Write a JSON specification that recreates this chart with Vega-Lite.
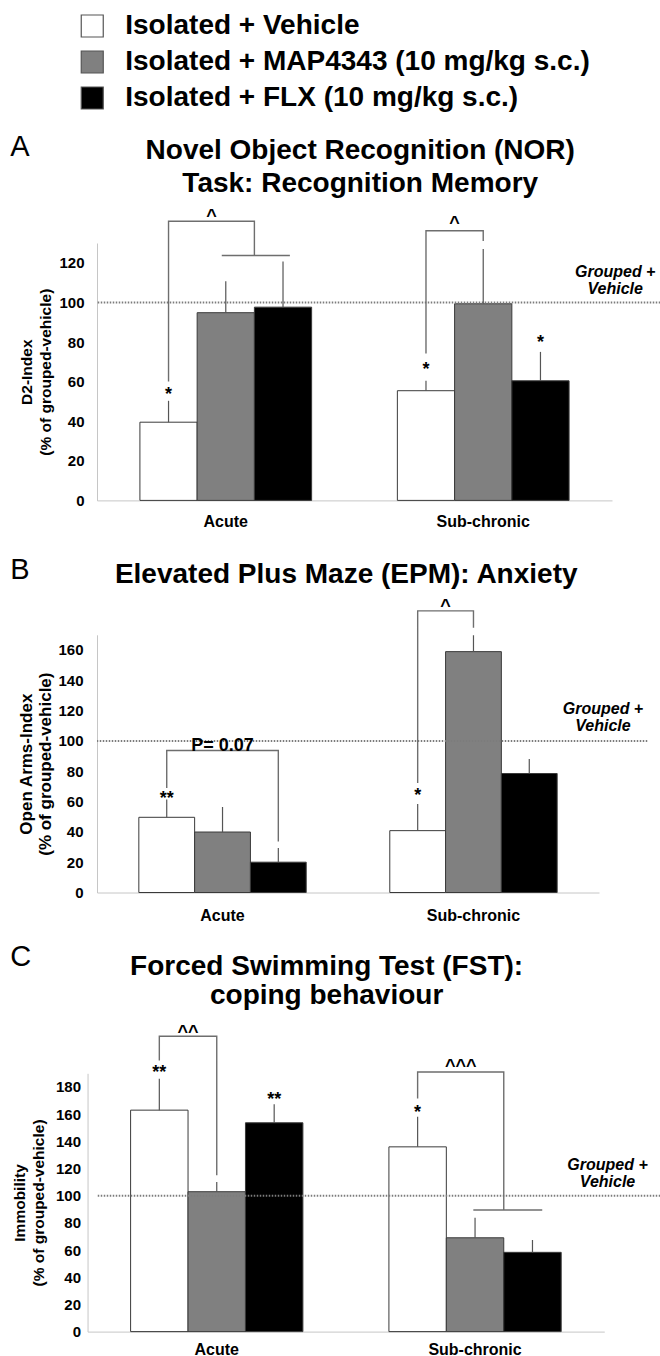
{
  "$schema": "https://vega.github.io/schema/vega-lite/v6.json",
  "padding": {"left": 10, "top": 12, "right": 0, "bottom": 0},
  "datasets": {
    "bars": [
      {"panel": "A", "period": "Acute", "group": "Isolated + Vehicle", "value": 39.5, "err": 50.3},
      {"panel": "A", "period": "Acute", "group": "Isolated + MAP4343 (10 mg/kg s.c.)", "value": 94.8, "err": 110.7},
      {"panel": "A", "period": "Acute", "group": "Isolated + FLX (10 mg/kg s.c.)", "value": 97.6, "err": 120.6},
      {"panel": "A", "period": "Sub-chronic", "group": "Isolated + Vehicle", "value": 55.4, "err": 60.4},
      {"panel": "A", "period": "Sub-chronic", "group": "Isolated + MAP4343 (10 mg/kg s.c.)", "value": 99.3, "err": 127},
      {"panel": "A", "period": "Sub-chronic", "group": "Isolated + FLX (10 mg/kg s.c.)", "value": 60.4, "err": 75},
      {"panel": "B", "period": "Acute", "group": "Isolated + Vehicle", "value": 49.6, "err": 61.3},
      {"panel": "B", "period": "Acute", "group": "Isolated + MAP4343 (10 mg/kg s.c.)", "value": 39.9, "err": 56.4},
      {"panel": "B", "period": "Acute", "group": "Isolated + FLX (10 mg/kg s.c.)", "value": 20, "err": 29.3},
      {"panel": "B", "period": "Sub-chronic", "group": "Isolated + Vehicle", "value": 40.8, "err": 58.4},
      {"panel": "B", "period": "Sub-chronic", "group": "Isolated + MAP4343 (10 mg/kg s.c.)", "value": 158.9, "err": 169.7},
      {"panel": "B", "period": "Sub-chronic", "group": "Isolated + FLX (10 mg/kg s.c.)", "value": 78.5, "err": 88.1},
      {"panel": "C", "period": "Acute", "group": "Isolated + Vehicle", "value": 162.9, "err": 186},
      {"panel": "C", "period": "Acute", "group": "Isolated + MAP4343 (10 mg/kg s.c.)", "value": 102.9, "err": 110},
      {"panel": "C", "period": "Acute", "group": "Isolated + FLX (10 mg/kg s.c.)", "value": 153.6, "err": 167.3},
      {"panel": "C", "period": "Sub-chronic", "group": "Isolated + Vehicle", "value": 135.9, "err": 158},
      {"panel": "C", "period": "Sub-chronic", "group": "Isolated + MAP4343 (10 mg/kg s.c.)", "value": 69, "err": 83.8},
      {"panel": "C", "period": "Sub-chronic", "group": "Isolated + FLX (10 mg/kg s.c.)", "value": 58.3, "err": 67.4}
    ],
    "brackets": [
      {"panel": "A", "id": "A1", "period": "Acute", "i": 1, "slot": 1, "value": 60},
      {"panel": "A", "id": "A1", "period": "Acute", "i": 2, "slot": 1, "value": 141},
      {"panel": "A", "id": "A1", "period": "Acute", "i": 3, "slot": 2.5, "value": 141},
      {"panel": "A", "id": "A1", "period": "Acute", "i": 4, "slot": 2.5, "value": 123.7},
      {"panel": "A", "id": "A1b", "period": "Acute", "i": 1, "slot": 1.93, "value": 123.7},
      {"panel": "A", "id": "A1b", "period": "Acute", "i": 2, "slot": 3.12, "value": 123.7},
      {"panel": "A", "id": "A2", "period": "Sub-chronic", "i": 1, "slot": 1, "value": 74.2},
      {"panel": "A", "id": "A2", "period": "Sub-chronic", "i": 2, "slot": 1, "value": 136.2},
      {"panel": "A", "id": "A2", "period": "Sub-chronic", "i": 3, "slot": 2, "value": 136.2},
      {"panel": "A", "id": "A2", "period": "Sub-chronic", "i": 4, "slot": 2, "value": 131},
      {"panel": "B", "id": "B1", "period": "Acute", "i": 1, "slot": 1, "value": 69},
      {"panel": "B", "id": "B1", "period": "Acute", "i": 2, "slot": 1, "value": 93.7},
      {"panel": "B", "id": "B1", "period": "Acute", "i": 3, "slot": 3, "value": 93.7},
      {"panel": "B", "id": "B1", "period": "Acute", "i": 4, "slot": 3, "value": 33.7},
      {"panel": "B", "id": "B2", "period": "Sub-chronic", "i": 1, "slot": 1, "value": 72.3},
      {"panel": "B", "id": "B2", "period": "Sub-chronic", "i": 2, "slot": 1, "value": 185.8},
      {"panel": "B", "id": "B2", "period": "Sub-chronic", "i": 3, "slot": 2, "value": 185.8},
      {"panel": "B", "id": "B2", "period": "Sub-chronic", "i": 4, "slot": 2, "value": 174.7},
      {"panel": "C", "id": "C1", "period": "Acute", "i": 1, "slot": 1, "value": 199.5},
      {"panel": "C", "id": "C1", "period": "Acute", "i": 2, "slot": 1, "value": 217.2},
      {"panel": "C", "id": "C1", "period": "Acute", "i": 3, "slot": 2, "value": 217.2},
      {"panel": "C", "id": "C1", "period": "Acute", "i": 4, "slot": 2, "value": 115},
      {"panel": "C", "id": "C2", "period": "Sub-chronic", "i": 1, "slot": 1, "value": 171.5},
      {"panel": "C", "id": "C2", "period": "Sub-chronic", "i": 2, "slot": 1, "value": 191},
      {"panel": "C", "id": "C2", "period": "Sub-chronic", "i": 3, "slot": 2.5, "value": 191},
      {"panel": "C", "id": "C2", "period": "Sub-chronic", "i": 4, "slot": 2.5, "value": 89.4},
      {"panel": "C", "id": "C2b", "period": "Sub-chronic", "i": 1, "slot": 1.97, "value": 89.4},
      {"panel": "C", "id": "C2b", "period": "Sub-chronic", "i": 2, "slot": 3.17, "value": 89.4}
    ],
    "notes": [
      {"panel": "A", "period": "Acute", "slot": 1, "value": 55, "label": "*"},
      {"panel": "A", "period": "Acute", "slot": 1.75, "value": 144.6, "label": "^"},
      {"panel": "A", "period": "Sub-chronic", "slot": 1.5, "value": 141.2, "label": "^"},
      {"panel": "A", "period": "Sub-chronic", "slot": 1, "value": 67.4, "label": "*"},
      {"panel": "A", "period": "Sub-chronic", "slot": 3, "value": 80.9, "label": "*"},
      {"panel": "B", "period": "Acute", "slot": 1, "value": 63.5, "label": "**"},
      {"panel": "B", "period": "Acute", "slot": 2, "value": 98.7, "label": "P= 0.07"},
      {"panel": "B", "period": "Sub-chronic", "slot": 1.5, "value": 190.6, "label": "^"},
      {"panel": "B", "period": "Sub-chronic", "slot": 1, "value": 65.6, "label": "*"},
      {"panel": "C", "period": "Acute", "slot": 1, "value": 192.2, "label": "**"},
      {"panel": "C", "period": "Acute", "slot": 1.5, "value": 221.6, "label": "^^"},
      {"panel": "C", "period": "Acute", "slot": 3, "value": 172.7, "label": "**"},
      {"panel": "C", "period": "Sub-chronic", "slot": 1, "value": 162.9, "label": "*"},
      {"panel": "C", "period": "Sub-chronic", "slot": 1.75, "value": 196.7, "label": "^^^"}
    ]
  },
  "columns": 1,
  "align": "none",
  "spacing": 24.8,
  "resolve": {"scale": {"fill": "shared", "size": "shared"}, "legend": {"fill": "shared"}},
  "concat": [
    {
      "width": 563.25, "height": 257.4,
      "title": {"text": ["Novel Object Recognition (NOR)", "Task: Recognition Memory"], "offset": -65, "dx": -18.4},
      "resolve": {"scale": {"xOffset": "independent"}},
      "encoding": {"y": {"field": "value", "type": "quantitative", "scale": {"domain": [0, 130], "nice": false}, "axis": {"values": [0, 20, 40, 60, 80, 100, 120], "labelPadding": 13, "titlePadding": 5}, "title": ["D2-Index", "(% of grouped-vehicle)"]}},
      "layer": [
        {"data": {"name": "bars"}, "transform": [{"filter": "datum.panel === 'A'"}],
         "mark": {"type": "bar", "stroke": "#3a3a3a", "strokeWidth": 1},
         "encoding": {
           "x": {"field": "period", "type": "nominal", "title": null, "scale": {"domain": ["Acute", "Sub-chronic"], "range": [0, 515], "paddingInner": 0.333, "paddingOuter": 0.1667}, "axis": {"labelPadding": 13}},
           "xOffset": {"field": "group", "type": "nominal", "scale": {"domain": ["Isolated + Vehicle", "Isolated + MAP4343 (10 mg/kg s.c.)", "Isolated + FLX (10 mg/kg s.c.)"], "paddingInner": 0, "paddingOuter": 0}},
           "fill": {"field": "group", "type": "nominal", "scale": {"domain": ["Isolated + Vehicle", "Isolated + MAP4343 (10 mg/kg s.c.)", "Isolated + FLX (10 mg/kg s.c.)"], "range": ["#ffffff", "#808080", "#000000"]}}
         }},
        {"data": {"values": [{"value": 100}]}, "mark": {"type": "rule", "color": "#7c7c7c", "strokeWidth": 2, "strokeDash": [1.5, 1.5]}, "encoding": {}},
        {"data": {"name": "bars"}, "transform": [{"filter": "datum.panel === 'A'"}],
         "mark": {"type": "rule", "color": "#555555", "strokeWidth": 1.2},
         "encoding": {
           "x": {"field": "period", "type": "nominal", "title": null},
           "xOffset": {"field": "group", "type": "nominal", "scale": {"domain": ["Isolated + Vehicle", "Isolated + MAP4343 (10 mg/kg s.c.)", "Isolated + FLX (10 mg/kg s.c.)"], "paddingInner": 0, "paddingOuter": 0}},
           "y2": {"field": "err"}
         }},
        {"data": {"name": "brackets"}, "transform": [{"filter": "datum.panel === 'A'"}],
         "mark": {"type": "line", "color": "#6e6e6e", "strokeWidth": 1.4},
         "encoding": {
           "x": {"field": "period", "type": "nominal", "title": null},
           "xOffset": {"field": "slot", "type": "quantitative", "scale": {"domain": [0.5, 3.5], "nice": false, "zero": false}},
           "detail": {"field": "id"},
           "order": {"field": "i"}
         }},
        {"data": {"name": "notes"}, "transform": [{"filter": "datum.panel === 'A'"}],
         "mark": {"type": "text", "fontWeight": "bold", "baseline": "middle", "dy": 3, "color": "#000"},
         "encoding": {
           "x": {"field": "period", "type": "nominal", "title": null},
           "xOffset": {"field": "slot", "type": "quantitative", "scale": {"domain": [0.5, 3.5], "nice": false, "zero": false}},
           "text": {"field": "label"},
           "size": {"field": "label", "type": "ordinal", "scale": {"domain": ["*", "**", "^", "^^", "^^^", "P= 0.07"], "range": [18, 18, 15, 15, 15, 13]}, "legend": null}
         }},
        {"data": {"values": [{"period": "Sub-chronic", "value": 115.3}]}, "mark": {"type": "text", "text": ["Grouped +", "Vehicle"], "fontStyle": "italic", "fontWeight": "bold", "fontSize": 16, "lineHeight": 17, "align": "center", "baseline": "middle", "dx": 132, "color": "#000"},
         "encoding": {"x": {"field": "period", "type": "nominal", "title": null}}},
        {"data": {"values": [{"period": "Acute", "value": 178.4, "letter": "A"}]}, "mark": {"type": "text", "fontSize": 29, "fontWeight": "normal", "align": "left", "baseline": "middle", "dx": -215.5, "color": "#000"},
         "encoding": {"x": {"field": "period", "type": "nominal", "title": null}, "text": {"field": "letter"}}}
      ]
    },
    {
      "columns": 1,
      "align": "none",
      "spacing": 18.5,
      "concat": [
        {
          "width": 550.25, "height": 257.7,
          "title": {"text": "Elevated Plus Maze (EPM): Anxiety", "offset": -33.5, "dx": -25.9},
          "resolve": {"scale": {"xOffset": "independent"}},
          "encoding": {"y": {"field": "value", "type": "quantitative", "scale": {"domain": [0, 170], "nice": false}, "axis": {"values": [0, 20, 40, 60, 80, 100, 120, 140, 160], "labelPadding": 14, "titlePadding": 3, "titleFontSize": 17}, "title": ["Open Arms-Index", "(% of grouped-vehicle)"]}},
          "layer": [
            {"data": {"name": "bars"}, "transform": [{"filter": "datum.panel === 'B'"}],
             "mark": {"type": "bar", "stroke": "#3a3a3a", "strokeWidth": 1},
             "encoding": {
               "x": {"field": "period", "type": "nominal", "title": null, "scale": {"domain": ["Acute", "Sub-chronic"], "range": [0, 502], "paddingInner": 0.333, "paddingOuter": 0.1667}, "axis": {"labelPadding": 15}},
               "xOffset": {"field": "group", "type": "nominal", "scale": {"domain": ["Isolated + Vehicle", "Isolated + MAP4343 (10 mg/kg s.c.)", "Isolated + FLX (10 mg/kg s.c.)"], "paddingInner": 0, "paddingOuter": 0}},
               "fill": {"field": "group", "type": "nominal", "scale": {"domain": ["Isolated + Vehicle", "Isolated + MAP4343 (10 mg/kg s.c.)", "Isolated + FLX (10 mg/kg s.c.)"], "range": ["#ffffff", "#808080", "#000000"]}}
             }},
            {"data": {"values": [{"value": 100}]}, "mark": {"type": "rule", "color": "#7c7c7c", "strokeWidth": 2, "strokeDash": [1.5, 1.5]}, "encoding": {}},
            {"data": {"name": "bars"}, "transform": [{"filter": "datum.panel === 'B'"}],
             "mark": {"type": "rule", "color": "#555555", "strokeWidth": 1.2},
             "encoding": {
               "x": {"field": "period", "type": "nominal", "title": null},
               "xOffset": {"field": "group", "type": "nominal", "scale": {"domain": ["Isolated + Vehicle", "Isolated + MAP4343 (10 mg/kg s.c.)", "Isolated + FLX (10 mg/kg s.c.)"], "paddingInner": 0, "paddingOuter": 0}},
               "y2": {"field": "err"}
             }},
            {"data": {"name": "brackets"}, "transform": [{"filter": "datum.panel === 'B'"}],
             "mark": {"type": "line", "color": "#6e6e6e", "strokeWidth": 1.4},
             "encoding": {
               "x": {"field": "period", "type": "nominal", "title": null},
               "xOffset": {"field": "slot", "type": "quantitative", "scale": {"domain": [0.5, 3.5], "nice": false, "zero": false}},
               "detail": {"field": "id"},
               "order": {"field": "i"}
             }},
            {"data": {"name": "notes"}, "transform": [{"filter": "datum.panel === 'B'"}],
             "mark": {"type": "text", "fontWeight": "bold", "baseline": "middle", "dy": 3, "color": "#000"},
             "encoding": {
               "x": {"field": "period", "type": "nominal", "title": null},
               "xOffset": {"field": "slot", "type": "quantitative", "scale": {"domain": [0.5, 3.5], "nice": false, "zero": false}},
               "text": {"field": "label"},
               "size": {"field": "label", "type": "ordinal", "scale": {"domain": ["*", "**", "^", "^^", "^^^", "P= 0.07"], "range": [18, 18, 15, 15, 15, 13]}, "legend": null}
             }},
            {"data": {"values": [{"period": "Sub-chronic", "value": 120.8}]}, "mark": {"type": "text", "text": ["Grouped +", "Vehicle"], "fontStyle": "italic", "fontWeight": "bold", "fontSize": 16, "lineHeight": 17, "align": "center", "baseline": "middle", "dx": 129.5, "color": "#000"},
             "encoding": {"x": {"field": "period", "type": "nominal", "title": null}}},
            {"data": {"values": [{"period": "Acute", "value": 212.9, "letter": "B"}]}, "mark": {"type": "text", "fontSize": 29, "fontWeight": "normal", "align": "left", "baseline": "middle", "dx": -212.25, "color": "#000"},
             "encoding": {"x": {"field": "period", "type": "nominal", "title": null}, "text": {"field": "letter"}}}
          ]
        },
        {
          "width": 563.25, "height": 258.3,
          "title": {"text": ["Forced Swimming Test (FST):", "coping behaviour"], "offset": -66.5, "dx": -52, "lineHeight": 29},
          "resolve": {"scale": {"xOffset": "independent"}},
          "encoding": {"y": {"field": "value", "type": "quantitative", "scale": {"domain": [0, 190], "nice": false}, "axis": {"values": [0, 20, 40, 60, 80, 100, 120, 140, 160, 180], "labelPadding": 7, "titlePadding": 9, "offset": 9.45}, "title": ["Immobility", "(% of grouped-vehicle)"]}},
          "layer": [
            {"data": {"name": "bars"}, "transform": [{"filter": "datum.panel === 'C'"}],
             "mark": {"type": "bar", "stroke": "#3a3a3a", "strokeWidth": 1},
             "encoding": {
               "x": {"field": "period", "type": "nominal", "title": null, "scale": {"domain": ["Acute", "Sub-chronic"], "range": [-9.45, 507.25], "paddingInner": 0.333, "paddingOuter": 0.1667}, "axis": {"labelPadding": 10}},
               "xOffset": {"field": "group", "type": "nominal", "scale": {"domain": ["Isolated + Vehicle", "Isolated + MAP4343 (10 mg/kg s.c.)", "Isolated + FLX (10 mg/kg s.c.)"], "paddingInner": 0, "paddingOuter": 0}},
               "fill": {"field": "group", "type": "nominal", "scale": {"domain": ["Isolated + Vehicle", "Isolated + MAP4343 (10 mg/kg s.c.)", "Isolated + FLX (10 mg/kg s.c.)"], "range": ["#ffffff", "#808080", "#000000"]}}
             }},
            {"data": {"values": [{"value": 100}]}, "mark": {"type": "rule", "color": "#7c7c7c", "strokeWidth": 2, "strokeDash": [1.5, 1.5]}, "encoding": {}},
            {"data": {"name": "bars"}, "transform": [{"filter": "datum.panel === 'C'"}],
             "mark": {"type": "rule", "color": "#555555", "strokeWidth": 1.2},
             "encoding": {
               "x": {"field": "period", "type": "nominal", "title": null},
               "xOffset": {"field": "group", "type": "nominal", "scale": {"domain": ["Isolated + Vehicle", "Isolated + MAP4343 (10 mg/kg s.c.)", "Isolated + FLX (10 mg/kg s.c.)"], "paddingInner": 0, "paddingOuter": 0}},
               "y2": {"field": "err"}
             }},
            {"data": {"name": "brackets"}, "transform": [{"filter": "datum.panel === 'C'"}],
             "mark": {"type": "line", "color": "#6e6e6e", "strokeWidth": 1.4},
             "encoding": {
               "x": {"field": "period", "type": "nominal", "title": null},
               "xOffset": {"field": "slot", "type": "quantitative", "scale": {"domain": [0.5, 3.5], "nice": false, "zero": false}},
               "detail": {"field": "id"},
               "order": {"field": "i"}
             }},
            {"data": {"name": "notes"}, "transform": [{"filter": "datum.panel === 'C'"}],
             "mark": {"type": "text", "fontWeight": "bold", "baseline": "middle", "dy": 3, "color": "#000"},
             "encoding": {
               "x": {"field": "period", "type": "nominal", "title": null},
               "xOffset": {"field": "slot", "type": "quantitative", "scale": {"domain": [0.5, 3.5], "nice": false, "zero": false}},
               "text": {"field": "label"},
               "size": {"field": "label", "type": "ordinal", "scale": {"domain": ["*", "**", "^", "^^", "^^^", "P= 0.07"], "range": [18, 18, 15, 15, 15, 13]}, "legend": null}
             }},
            {"data": {"values": [{"period": "Sub-chronic", "value": 122.5}]}, "mark": {"type": "text", "text": ["Grouped +", "Vehicle"], "fontStyle": "italic", "fontWeight": "bold", "fontSize": 16, "lineHeight": 17, "align": "center", "baseline": "middle", "dx": 132.5, "color": "#000"},
             "encoding": {"x": {"field": "period", "type": "nominal", "title": null}}},
            {"data": {"values": [{"period": "Acute", "value": 275.5, "letter": "C"}]}, "mark": {"type": "text", "fontSize": 29, "fontWeight": "normal", "align": "left", "baseline": "middle", "dx": -206.5, "color": "#000"},
             "encoding": {"x": {"field": "period", "type": "nominal", "title": null}, "text": {"field": "letter"}}}
          ]
        }
      ]
    }
  ],
  "config": {
    "view": {"stroke": null},
    "font": "Liberation Sans",
    "text": {"font": "Liberation Sans"},
    "title": {"font": "Liberation Sans", "fontSize": 28, "fontWeight": "bold", "lineHeight": 33, "color": "#000000", "anchor": "middle", "frame": "group"},
    "axis": {"grid": false, "ticks": false, "domainColor": "#c6c6c6", "domainWidth": 1, "labelFont": "Liberation Sans", "labelFontWeight": "bold", "labelColor": "#000000", "titleFont": "Liberation Sans", "titleFontWeight": "bold", "titleColor": "#000000"},
    "axisX": {"labelFontSize": 16, "labelAngle": 0},
    "axisY": {"labelFontSize": 15, "titleFontSize": 15.5, "titleLineHeight": 19},
    "legend": {"orient": "none", "legendX": -18.75, "legendY": -231, "title": null, "direction": "vertical", "symbolType": "square", "symbolSize": 484, "symbolStrokeColor": "#555555", "symbolStrokeWidth": 1.2, "labelFont": "Liberation Sans", "labelFontSize": 28, "labelFontWeight": "bold", "labelColor": "#000000", "labelOffset": 19, "rowPadding": 8, "labelLimit": 700, "padding": 0}
  }
}
